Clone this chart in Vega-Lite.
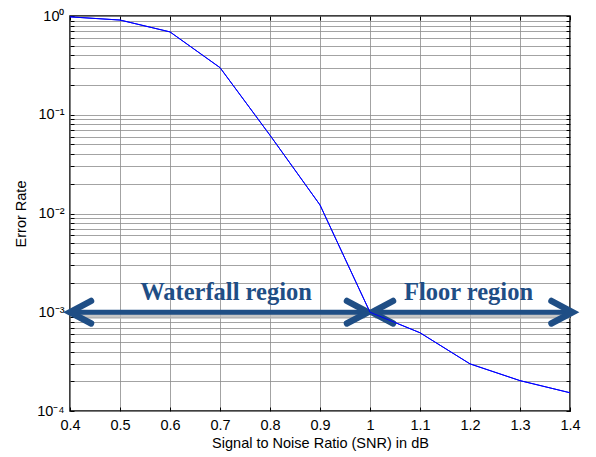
{
  "$schema": "https://vega.github.io/schema/vega-lite/v6.json",
  "autosize": {"type": "none"},
  "padding": {"left": 70, "top": 16, "right": 26, "bottom": 46},
  "width": 500,
  "height": 395,
  "background": "white",
  "config": {
    "view": {"stroke": "black", "strokeWidth": 1.5},
    "font": "Liberation Sans"
  },
  "datasets": {
    "curve": [
      {"snr": 0.4, "err": 0.98},
      {"snr": 0.5, "err": 0.91},
      {"snr": 0.6, "err": 0.69},
      {"snr": 0.7, "err": 0.30},
      {"snr": 0.8, "err": 0.062},
      {"snr": 0.9, "err": 0.0122},
      {"snr": 1.0, "err": 0.001},
      {"snr": 1.1, "err": 0.00062},
      {"snr": 1.2, "err": 0.00030},
      {"snr": 1.3, "err": 0.000203},
      {"snr": 1.4, "err": 0.000153}
    ],
    "shafts": [
      {"x": 0.4, "x2": 0.99, "y": 0.001},
      {"x": 1.01, "x2": 1.4, "y": 0.001}
    ],
    "shadows": [
      {"x": 0.41, "x2": 0.99, "y": 0.00091},
      {"x": 1.01, "x2": 1.4, "y": 0.00091}
    ],
    "chevrons": [
      {"id": "a", "o": 0, "x": 0.442, "y": 0.0013},
      {"id": "a", "o": 1, "x": 0.4, "y": 0.001},
      {"id": "a", "o": 2, "x": 0.442, "y": 0.00077},
      {"id": "b", "o": 0, "x": 0.954, "y": 0.0013},
      {"id": "b", "o": 1, "x": 0.996, "y": 0.001},
      {"id": "b", "o": 2, "x": 0.954, "y": 0.00077},
      {"id": "c", "o": 0, "x": 1.046, "y": 0.0013},
      {"id": "c", "o": 1, "x": 1.004, "y": 0.001},
      {"id": "c", "o": 2, "x": 1.046, "y": 0.00077},
      {"id": "d", "o": 0, "x": 1.363, "y": 0.0013},
      {"id": "d", "o": 1, "x": 1.405, "y": 0.001},
      {"id": "d", "o": 2, "x": 1.363, "y": 0.00077}
    ],
    "labels": [
      {"x": 0.712, "y": 0.00133, "t": "Waterfall region"},
      {"x": 1.197, "y": 0.00133, "t": "Floor region"}
    ]
  },
  "resolve": {"axis": {"x": "independent", "y": "independent"}},
  "layer": [
    {
      "data": {"name": "curve"},
      "mark": {"type": "line", "opacity": 0},
      "encoding": {
        "x": {"field": "snr", "type": "quantitative",
          "scale": {"domain": [0.4, 1.4], "nice": false, "zero": false},
          "axis": {"orient": "top", "labels": false, "title": null, "grid": false,
            "values": [0.4,0.5,0.6,0.7,0.8,0.9,1.0,1.1,1.2,1.3,1.4],
            "domain": false, "tickSize": -4, "tickColor": "black", "tickWidth": 1}},
        "y": {"field": "err", "type": "quantitative",
          "scale": {"type": "log", "domain": [0.0001, 1], "nice": false},
          "axis": {"orient": "right", "labels": false, "title": null, "grid": false,
            "values": [0.0001,0.0002,0.0003,0.0004,0.0005,0.0006,0.0007,0.0008,0.0009,0.001,0.002,0.003,0.004,0.005,0.006,0.007,0.008,0.009,0.01,0.02,0.03,0.04,0.05,0.06,0.07,0.08,0.09,0.1,0.2,0.3,0.4,0.5,0.6,0.7,0.8,0.9,1],
            "domain": false, "tickSize": -4, "tickColor": "black", "tickWidth": 1}}
      }
    },
    {
      "data": {"name": "curve"},
      "mark": {"type": "line", "color": "#0000FF", "strokeWidth": 1},
      "encoding": {
        "x": {"field": "snr", "type": "quantitative",
          "axis": {"orient": "bottom", "title": "Signal to Noise Ratio (SNR) in dB",
            "values": [0.4,0.5,0.6,0.7,0.8,0.9,1.0,1.1,1.2,1.3,1.4], "format": "~g",
            "grid": true, "gridColor": "#8c8c8c", "gridWidth": 1, "gridOpacity": 0.8,
            "domain": false, "tickSize": -4, "tickColor": "black", "tickWidth": 1,
            "labelPadding": 11, "labelFontSize": 14.5, "labelColor": "black",
            "labelFont": "Liberation Sans", "labelFlush": false,
            "titleFont": "Liberation Sans", "titleFontSize": 14.5, "titleFontWeight": "normal",
            "titleColor": "black", "titlePadding": 5}},
        "y": {"field": "err", "type": "quantitative",
          "axis": {"orient": "left", "title": "Error Rate",
            "values": [0.0001,0.0002,0.0003,0.0004,0.0005,0.0006,0.0007,0.0008,0.0009,0.001,0.002,0.003,0.004,0.005,0.006,0.007,0.008,0.009,0.01,0.02,0.03,0.04,0.05,0.06,0.07,0.08,0.09,0.1,0.2,0.3,0.4,0.5,0.6,0.7,0.8,0.9,1],
            "labelExpr": "datum.value == 1 ? '10⁰' : datum.value == 0.1 ? '10⁻¹' : datum.value == 0.01 ? '10⁻²' : datum.value == 0.001 ? '10⁻³' : datum.value == 0.0001 ? '10⁻⁴' : ''",
            "grid": true, "gridColor": "#8c8c8c", "gridWidth": 1, "gridOpacity": 0.8,
            "domain": false, "tickSize": -4, "tickColor": "black", "tickWidth": 1,
            "labelPadding": 10, "labelFontSize": 14.5, "labelColor": "black",
            "labelFont": "Liberation Sans", "labelOverlap": false, "labelFlush": false,
            "titleFont": "Liberation Sans", "titleFontSize": 14.5, "titleFontWeight": "normal",
            "titleColor": "black", "titlePadding": 8}}
      }
    },
    {
      "data": {"name": "shadows"},
      "mark": {"type": "rule", "color": "#b8b8b8", "strokeWidth": 5, "opacity": 0.8},
      "encoding": {
        "x": {"field": "x", "type": "quantitative", "axis": null},
        "x2": {"field": "x2"},
        "y": {"field": "y", "type": "quantitative", "axis": null}
      }
    },
    {
      "data": {"name": "shafts"},
      "mark": {"type": "rule", "color": "#1F4E85", "strokeWidth": 5},
      "encoding": {
        "x": {"field": "x", "type": "quantitative", "axis": null},
        "x2": {"field": "x2"},
        "y": {"field": "y", "type": "quantitative", "axis": null}
      }
    },
    {
      "data": {"name": "chevrons"},
      "mark": {"type": "line", "color": "#1F4E85", "strokeWidth": 6.5, "strokeCap": "round", "strokeJoin": "miter", "clip": false},
      "encoding": {
        "x": {"field": "x", "type": "quantitative", "axis": null},
        "y": {"field": "y", "type": "quantitative", "axis": null},
        "detail": {"field": "id"},
        "order": {"field": "o"}
      }
    },
    {
      "data": {"name": "curve"},
      "mark": {"type": "line", "color": "#0000FF", "strokeWidth": 1},
      "encoding": {
        "x": {"field": "snr", "type": "quantitative", "axis": null},
        "y": {"field": "err", "type": "quantitative", "axis": null}
      }
    },
    {
      "data": {"name": "labels"},
      "mark": {"type": "text", "font": "Liberation Serif", "fontWeight": "bold", "fontSize": 24.5, "color": "#1F4E85", "baseline": "alphabetic", "align": "center"},
      "encoding": {
        "x": {"field": "x", "type": "quantitative", "axis": null},
        "y": {"field": "y", "type": "quantitative", "axis": null},
        "text": {"field": "t"}
      }
    }
  ]
}
